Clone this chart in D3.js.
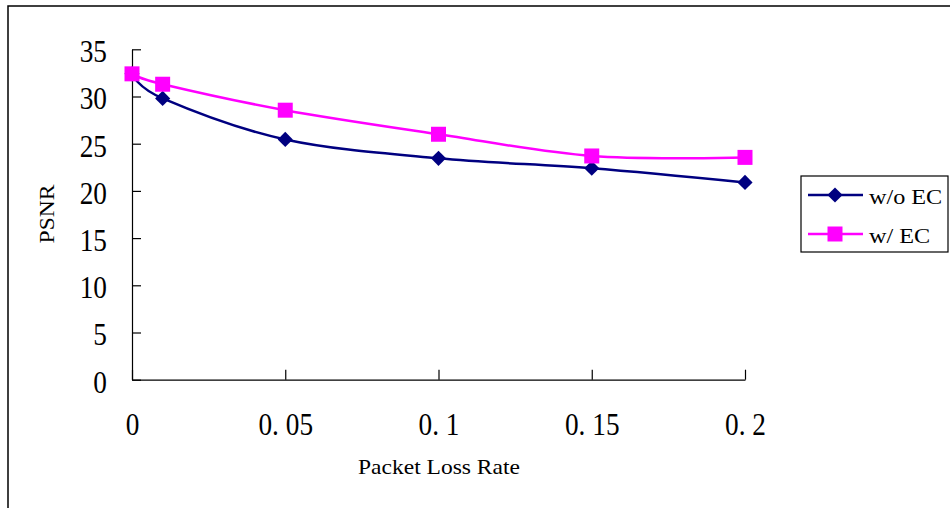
<!DOCTYPE html>
<html lang="en">
  <head>
    <meta charset="UTF-8" />
    <title>PSNR vs packet loss rate</title>
    <style>
      body {
        margin: 0;
        background: #fff;
      }
      .axis path,
      .axis line {
        stroke: #000;
        stroke-width: 1.2px;
      }
      .serif {
        font-family: "Liberation Serif", "Times New Roman", serif;
      }
    </style>
  </head>
  <body>
    <div id="chart"></div>
    <script src="https://cdn.jsdelivr.net/npm/d3@7"></script>
    <script>
      /* global d3 */

      // data
      let lossRates = [0, 0.01, 0.05, 0.1, 0.15, 0.2];
      let psnrNoEC = [32.4, 29.8, 25.45, 23.45, 22.4, 20.9];
      let psnrEC = [32.4, 31.3, 28.55, 26.0, 23.7, 23.55];
      let seriesNames = ["w/o EC", "w/ EC"];
      let xTicks = [0, 0.05, 0.1, 0.15, 0.2];
      let xTickLabels = ["0", "0. 05", "0. 1", "0. 15", "0. 2"];
      let yTicks = [0, 5, 10, 15, 20, 25, 30, 35];

      let width = 950,
        height = 508;

      let navy = "#000080",
        magenta = "#ff00ff";

      let svg = d3
        .select("#chart")
        .append("svg")
        .attr("width", width)
        .attr("height", height);

      // outer chart frame (runs off the right and bottom edges)
      svg
        .append("rect")
        .attr("x", 8)
        .attr("y", 6)
        .attr("width", 960)
        .attr("height", 520)
        .attr("fill", "none")
        .attr("stroke", "#000")
        .attr("stroke-width", 1.5);

      let x = d3.scaleLinear().domain([0, 0.2]).range([132, 745]);
      let y = d3.scaleLinear().domain([0, 35]).range([379.7, 49.3]);

      let digitScale = 0.88;

      let yAxis = svg
        .append("g")
        .attr("class", "axis")
        .attr("transform", "translate(" + x(0) + ",0)")
        .call(
          d3
            .axisLeft(y)
            .tickValues(yTicks)
            .tickSizeInner(-9)
            .tickSizeOuter(0)
            .tickPadding(25)
        );

      yAxis
        .selectAll("text")
        .attr("class", "serif")
        .attr("fill", "#000")
        .style("font-size", "31px")
        .attr("x", -25 / digitScale)
        .attr("dy", "0.4em")
        .attr("transform", "scale(" + digitScale + ",1)");

      let xAxis = svg
        .append("g")
        .attr("class", "axis")
        .attr("transform", "translate(0," + y(0) + ")")
        .call(
          d3
            .axisBottom(x)
            .tickValues(xTicks)
            .tickFormat(function (d, i) {
              return xTickLabels[i];
            })
            .tickSizeInner(-10)
            .tickSizeOuter(0)
            .tickPadding(33)
        );

      xAxis
        .selectAll("text")
        .attr("class", "serif")
        .attr("fill", "#000")
        .style("font-size", "31px")
        .attr("transform", "scale(" + digitScale + ",1)");

      // axis titles (slightly widened like the original)
      svg
        .append("text")
        .attr("class", "serif")
        .attr("transform", "translate(439,474) scale(1.12,1)")
        .attr("text-anchor", "middle")
        .style("font-size", "21px")
        .text("Packet Loss Rate");

      svg
        .append("text")
        .attr("class", "serif")
        .attr("transform", "translate(54,214) rotate(-90) scale(1.12,1)")
        .attr("text-anchor", "middle")
        .style("font-size", "21px")
        .text("PSNR");

      let series = [
        { name: seriesNames[0], values: psnrNoEC, color: navy, symbol: "diamond" },
        { name: seriesNames[1], values: psnrEC, color: magenta, symbol: "square" }
      ];

      let line = d3
        .line()
        .x(function (d) {
          return x(d[0]);
        })
        .y(function (d) {
          return y(d[1]);
        })
        .curve(d3.curveCardinal.tension(0));

      let squareSym = d3.symbol().type(d3.symbolSquare).size(225);
      let diamondSym = d3.symbol().type(d3.symbolSquare).size(115);

      function marker(sel, s) {
        sel
          .attr("d", s.symbol === "square" ? squareSym() : diamondSym())
          .attr("fill", s.color);
      }

      series.forEach(function (s) {
        let pts = lossRates.map(function (r, i) {
          return [r, s.values[i]];
        });

        svg
          .append("path")
          .datum(pts)
          .attr("d", line)
          .attr("fill", "none")
          .attr("stroke", s.color)
          .attr("stroke-width", 2.5);

        svg
          .selectAll(null)
          .data(pts)
          .enter()
          .append("path")
          .attr("transform", function (d) {
            return (
              "translate(" + x(d[0]) + "," + y(d[1]) + ")" +
              (s.symbol === "diamond" ? " rotate(45)" : "")
            );
          })
          .call(marker, s);
      });

      // legend
      let legend = svg.append("g").attr("transform", "translate(801,176)");

      legend
        .append("rect")
        .attr("width", 147)
        .attr("height", 76)
        .attr("fill", "#fff")
        .attr("stroke", "#000")
        .attr("stroke-width", 1.2);

      series.forEach(function (s, i) {
        let g = legend.append("g").attr("transform", "translate(0," + (19 + i * 39) + ")");
        g.append("line")
          .attr("x1", 7)
          .attr("x2", 62)
          .attr("stroke", s.color)
          .attr("stroke-width", 2.5);
        g.append("path")
          .attr("transform", "translate(34,0)" + (s.symbol === "diamond" ? " rotate(45)" : ""))
          .call(marker, s);
        g.append("text")
          .attr("class", "serif")
          .attr("transform", "translate(68,9) scale(1.1,1)")
          .style("font-size", "22px")
          .text(s.name);
      });
    </script>
  </body>
</html>
